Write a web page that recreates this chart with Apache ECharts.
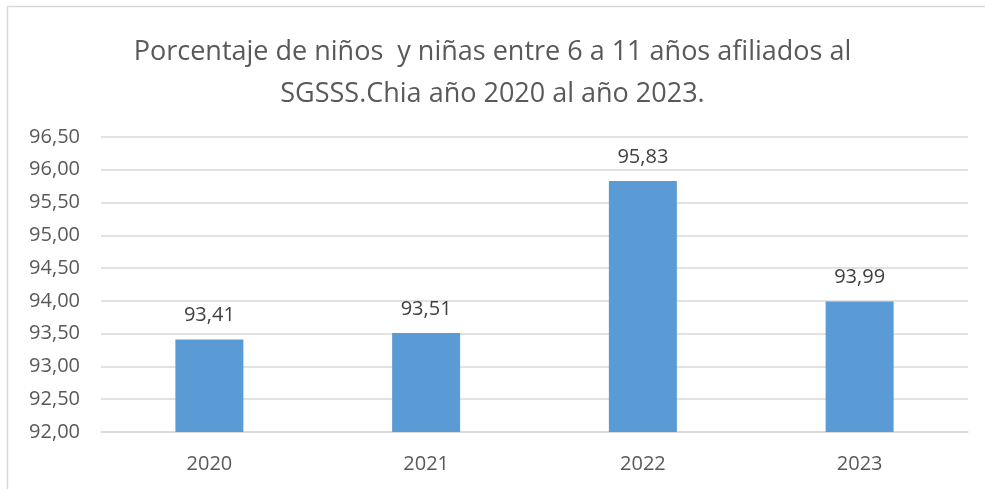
<!doctype html>
<html>
<head>
  <meta charset="utf-8">
  <script src="https://cdn.jsdelivr.net/npm/echarts@6/dist/echarts.min.js"></script>
</head>
<style>
  html, body { margin: 0; padding: 0; background: #fff; }
  #chart { width: 985px; height: 489px; }
</style>
<body>
<div id="chart"></div>
<script>
  var years = ['2020', '2021', '2022', '2023'];
  var values = [93.41, 93.51, 95.83, 93.99];

  var fmt = function (v) { return v.toFixed(2).replace('.', ','); };

  var myChart = echarts.init(document.getElementById('chart'));
  var option = {
    animation: false,
    textStyle: { fontFamily: 'Open Sans' },
    graphic: [{
      type: 'rect',
      shape: { x: 7.5, y: 6.5, width: 1000, height: 600 },
      style: { fill: 'none', stroke: '#d9d9d9', lineWidth: 1.5 },
      silent: true
    }],
    title: {
      text: 'Porcentaje de niños  y niñas entre 6 a 11 años afiliados al\nSGSSS.Chia año 2020 al año 2023.',
      left: 'center',
      top: 26,
      textStyle: {
        fontFamily: 'Open Sans',
        fontWeight: 'normal',
        fontSize: 27,
        lineHeight: 42,
        color: '#595959'
      }
    },
    grid: {
      left: 101,
      right: 17,
      top: 137,
      bottom: 57
    },
    xAxis: {
      type: 'category',
      data: years,
      axisTick: { show: false },
      axisLine: { lineStyle: { color: '#d9d9d9', width: 1.5 } },
      axisLabel: { color: '#595959', fontSize: 20, margin: 22 }
    },
    yAxis: {
      type: 'value',
      min: 92,
      max: 96.5,
      interval: 0.5,
      axisLine: { show: false },
      axisTick: { show: false },
      splitLine: { lineStyle: { color: '#d9d9d9', width: 1.5 } },
      axisLabel: {
        color: '#595959',
        fontSize: 20,
        margin: 21,
        formatter: fmt
      }
    },
    series: [{
      type: 'bar',
      data: values,
      barWidth: 68,
      itemStyle: { color: '#5b9bd5' },
      label: {
        show: true,
        position: 'top',
        distance: 14,
        color: '#404040',
        fontSize: 20,
        formatter: function (p) { return fmt(p.value); }
      }
    }]
  };
  myChart.setOption(option);
</script>
</body>
</html>
